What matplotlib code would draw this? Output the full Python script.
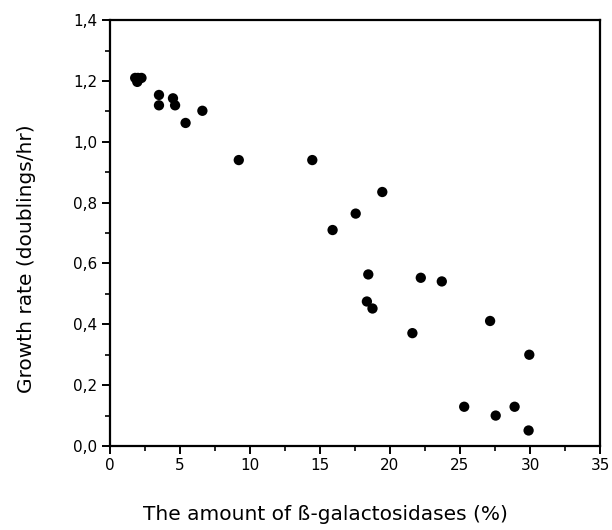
import numpy as np
import matplotlib
matplotlib.use("Agg")
import matplotlib.pyplot as plt
from matplotlib.ticker import MultipleLocator, FuncFormatter

# beta-galactosidase fraction (%) vs growth rate (doublings/hr)
galactosidase = [1.8, 2.0, 2.25, 1.95, 3.5, 3.5, 4.5, 4.65, 5.4, 6.6,
                 9.2, 14.45, 15.9, 17.55, 18.45, 18.35, 18.75, 19.45,
                 21.6, 22.2, 23.7, 25.3, 27.15, 27.55, 28.9, 29.95, 29.9]
growth_rate = [1.21, 1.21, 1.21, 1.197, 1.154, 1.12, 1.143, 1.12, 1.062, 1.102,
               0.94, 0.94, 0.71, 0.764, 0.564, 0.475, 0.452, 0.835,
               0.371, 0.553, 0.541, 0.129, 0.411, 0.10, 0.129, 0.30, 0.051]

plt.rcParams['font.family'] = ['DejaVu Sans']

fig = plt.figure(figsize=(6.12, 5.30), dpi=100)
ax = fig.add_axes([0.1797, 0.1585, 0.8007, 0.8035])

ax.scatter(galactosidase, growth_rate, s=55, color='black', edgecolors='none',
           zorder=3, clip_on=False)

ax.set_xlim(0, 35)
ax.set_ylim(0, 1.4)
ax.xaxis.set_major_locator(MultipleLocator(5))
ax.xaxis.set_minor_locator(MultipleLocator(2.5))
ax.yaxis.set_major_locator(MultipleLocator(0.2))
ax.yaxis.set_minor_locator(MultipleLocator(0.1))
ax.yaxis.set_major_formatter(FuncFormatter(lambda v, p: "{0:.1f}".format(v).replace('.', ',')))

for side in ['left', 'bottom', 'top', 'right']:
    ax.spines[side].set_linewidth(1.6)
ax.tick_params(which='major', direction='out', length=6, width=1.4,
               labelsize=11, pad=3)
ax.tick_params(which='minor', direction='out', length=3.5, width=1.2)
ax.tick_params(top=False, right=False)

ax.set_xlabel("The amount of ß-galactosidases (%)", fontsize=14.5, va='center')
ax.set_ylabel("Growth rate (doublings/hr)", fontsize=14.5, va='center')
ax.xaxis.set_label_coords(0.44, -0.162)
ax.yaxis.set_label_coords(-0.17, 0.44)

fig.savefig("out.png", dpi=100, facecolor='white')
